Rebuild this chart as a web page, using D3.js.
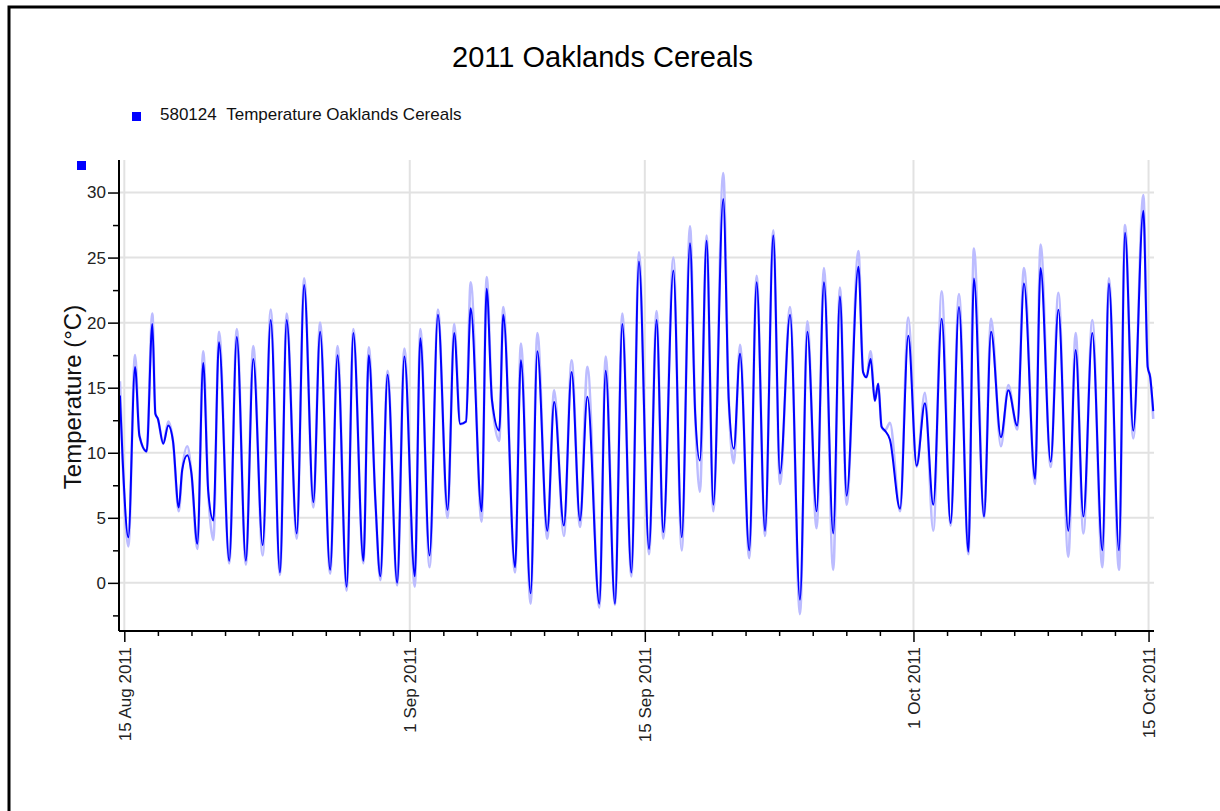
<!DOCTYPE html>
<html>
<head>
<meta charset="utf-8">
<script src="https://cdn.jsdelivr.net/npm/d3@7"></script>
<style>
  html, body { margin: 0; padding: 0; background: #fff; }
  svg { display: block; }
  text { font-family: "Liberation Sans", Arial, sans-serif; }
</style>
</head>
<body>
<svg id="chart" width="1220" height="811"></svg>
<script>
// ---- data (day offsets from 15 Aug 2011 00:00) ----
const chartTitle = "2011 Oaklands Cereals";
const seriesName = "580124\u00a0\u00a0Temperature Oaklands Cereals";
const yAxisTitle = "Temperature (°C)";

const dayOffsets = [
  -0.26, -0.1, 0.24, 0.64, 0.9, 1.33, 1.67, 1.85, 2.0, 2.32,
  2.62, 2.9, 3.24, 3.45, 3.75, 4.0, 4.35, 4.7, 5.0, 5.3,
  5.64, 6.25, 6.7, 7.24, 7.68, 8.24, 8.72, 9.27, 9.67, 10.27,
  10.71, 11.26, 11.66, 12.26, 12.70, 13.24, 13.64, 14.24, 14.56, 14.95,
  15.25, 15.68, 16.25, 16.68, 17.3, 17.63, 18.18, 18.68, 19.25, 19.65,
  20.0, 20.35, 20.63, 21.28, 21.58, 21.9, 22.33, 22.57, 23.27, 23.62,
  24.2, 24.6, 25.19, 25.6, 26.18, 26.64, 27.14, 27.58, 28.29, 28.67,
  29.22, 29.66, 30.2, 30.65, 31.25, 31.7, 32.1, 32.7, 33.2, 33.69,
  34.0, 34.28, 34.68, 35.08, 35.67, 36.0, 36.3, 36.67, 37.22, 37.66,
  38.16, 38.65, 39.05, 39.65, 40.24, 40.68, 41.23, 41.67, 42.22, 42.62,
  43.02, 43.72, 44.0, 44.2, 44.45, 44.7, 44.9, 45.1, 45.3, 45.6,
  46.2, 46.69, 47.19, 47.68, 48.18, 48.68, 49.21, 49.71, 50.27, 50.6,
  51.2, 51.62, 52.21, 52.65, 53.18, 53.58, 54.24, 54.57, 55.17, 55.63,
  56.22, 56.66, 57.12, 57.65, 58.25, 58.64, 59.24, 59.6, 60.09, 60.69,
  60.95, 61.1, 61.28
];

const temperature = [
  14.4, 9.5, 3.5, 16.6, 11.3, 10.1, 19.9, 13.0, 12.6, 10.7,
  12.1, 10.9, 5.8, 8.7, 9.8, 8.4, 3.0, 16.9, 7.0, 4.8,
  18.5, 1.7, 18.9, 1.7, 17.2, 2.9, 20.2, 0.8, 20.2, 3.8,
  22.9, 6.2, 19.3, 1.0, 17.5, -0.3, 19.2, 1.7, 17.5, 6.4,
  0.5, 16.0, 0.0, 17.4, 0.5, 18.8, 2.1, 20.6, 5.6, 19.2,
  12.2, 12.4, 21.1, 5.5, 22.6, 14.0, 11.7, 20.6, 1.2, 17.1,
  -0.8, 17.8, 4.0, 13.9, 4.4, 16.2, 4.8, 14.3, -1.6, 16.3,
  -1.6, 19.9, 0.8, 24.7, 2.6, 20.2, 3.9, 24.0, 3.5, 26.1,
  13.0, 9.4, 26.3, 6.0, 29.5, 14.0, 10.3, 17.6, 2.5, 23.1,
  4.0, 26.7, 8.4, 20.6, -1.3, 19.3, 5.5, 23.1, 3.8, 22.0,
  6.7, 24.3, 16.2, 15.8, 17.2, 14.0, 15.3, 12.0, 11.7, 11.0,
  5.7, 19.0, 9.0, 13.8, 6.0, 20.3, 4.6, 21.2, 2.4, 23.4,
  5.1, 19.3, 11.2, 14.8, 12.1, 23.0, 8.0, 24.2, 9.3, 21.0,
  4.0, 17.9, 5.1, 19.2, 2.5, 23.0, 2.5, 26.9, 11.7, 28.6,
  16.6, 15.8, 13.2
];

// light-blue envelope (hourly extremes)
const temperatureEnvelope = [
  15.5, 9.5, 2.8, 17.5, 11.3, 10.1, 20.7, 13.0, 12.6, 10.7,
  12.4, 10.9, 5.5, 8.7, 10.5, 8.4, 2.6, 17.8, 7.0, 3.3,
  19.3, 1.5, 19.5, 1.4, 18.2, 2.1, 21.0, 0.6, 20.7, 3.4,
  23.4, 5.8, 20.0, 0.7, 18.2, -0.6, 19.5, 1.5, 18.1, 6.4,
  0.2, 16.3, -0.2, 18.0, -0.3, 19.5, 1.2, 21.0, 5.0, 19.9,
  12.2, 12.4, 23.1, 4.7, 23.5, 14.0, 10.9, 21.2, 0.8, 18.4,
  -1.6, 19.2, 3.4, 14.8, 3.6, 17.1, 4.3, 16.6, -1.9, 17.4,
  -1.7, 20.7, 0.5, 25.4, 2.2, 20.9, 3.4, 25.0, 2.5, 27.4,
  13.0, 7.0, 26.7, 5.5, 31.5, 14.0, 9.2, 18.3, 1.9, 23.6,
  3.6, 27.1, 7.6, 21.2, -2.4, 20.1, 4.2, 24.2, 1.0, 22.7,
  6.0, 25.5, 16.2, 15.8, 17.8, 14.0, 15.3, 12.0, 11.7, 12.3,
  5.5, 20.4, 8.9, 14.6, 4.0, 22.4, 4.4, 22.2, 2.2, 25.7,
  5.0, 20.3, 10.5, 15.2, 11.8, 24.2, 7.6, 26.0, 8.9, 22.3,
  2.0, 19.2, 3.8, 20.2, 1.2, 23.4, 1.0, 27.5, 11.1, 29.8,
  16.6, 15.8, 12.6
];

const majorTickDates = ["2011-08-15", "2011-09-01", "2011-09-15", "2011-10-01", "2011-10-15"];
const majorTickLabels = ["15 Aug 2011", "1 Sep 2011", "15 Sep 2011", "1 Oct 2011", "15 Oct 2011"];
const yMajorTicks = [0, 5, 10, 15, 20, 25, 30];
const yMinorTicks = [-2.5, 2.5, 7.5, 12.5, 17.5, 22.5, 27.5];

// ---- layout ----
const svg = d3.select("#chart");
const plot = { left: 119, right: 1154, top: 160, bottom: 631 };
const DAY = 864e5;
const base = Date.UTC(2011, 7, 15);
const toDate = d => new Date(base + d * DAY);

const x = d3.scaleUtc()
  .domain([toDate(-0.316), toDate(61.325)])
  .range([plot.left, plot.right]);
const y = d3.scaleLinear()
  .domain([-3.7, 32.5])
  .range([plot.bottom, plot.top]);

// frame
svg.append("rect").attr("x", 9).attr("y", 7).attr("width", 1300).attr("height", 900)
  .attr("fill", "none").attr("stroke", "#000").attr("stroke-width", 3);

// title
svg.append("text").attr("x", 602.5).attr("y", 66.5).attr("text-anchor", "middle")
  .style("font-size", "29px").attr("fill", "#000").text(chartTitle);

// legend
svg.append("rect").attr("x", 132).attr("y", 112).attr("width", 9).attr("height", 9).attr("fill", "#0000ff");
svg.append("text").attr("x", 160).attr("y", 119.5).style("font-size", "17px")
  .attr("fill", "#111").text(seriesName);
svg.append("rect").attr("x", 77).attr("y", 161).attr("width", 9).attr("height", 9).attr("fill", "#0000ff");

// gridlines
const majorDates = majorTickDates.map(s => new Date(s + "T00:00:00Z"));
svg.append("g").selectAll("line").data(yMajorTicks).join("line")
  .attr("x1", plot.left).attr("x2", plot.right)
  .attr("y1", d => y(d)).attr("y2", d => y(d))
  .attr("stroke", "#e2e2e2").attr("stroke-width", 2);
svg.append("g").selectAll("line").data(majorDates).join("line")
  .attr("x1", d => x(d)).attr("x2", d => x(d))
  .attr("y1", plot.top).attr("y2", plot.bottom)
  .attr("stroke", "#e2e2e2").attr("stroke-width", 2);

// series
const pts = dayOffsets.map((d, i) => ({ t: toDate(d), v: temperature[i], e: temperatureEnvelope[i] }));
svg.append("clipPath").attr("id", "clip").append("rect")
  .attr("x", plot.left + 1).attr("y", plot.top).attr("width", plot.right - plot.left).attr("height", plot.bottom - plot.top);

const envLine = d3.line().x(d => x(d.t)).y(d => y(d.e)).curve(d3.curveMonotoneX);
const line = d3.line().x(d => x(d.t)).y(d => y(d.v)).curve(d3.curveMonotoneX);

const g = svg.append("g").attr("clip-path", "url(#clip)");
g.append("path").datum(pts).attr("d", envLine)
  .attr("fill", "none").attr("stroke", "#bcbcff").attr("stroke-width", 2.6);
g.append("path").datum(pts).attr("d", line)
  .attr("fill", "none").attr("stroke", "#0000ff").attr("stroke-width", 2);

// y axis
const yAxisG = svg.append("g").attr("transform", `translate(${plot.left},0)`);
yAxisG.call(d3.axisLeft(y).tickValues(yMajorTicks).tickSize(11).tickSizeOuter(0).tickFormat(d3.format("d")));
yAxisG.select(".domain").attr("stroke", "#000").attr("stroke-width", 2)
  .attr("d", `M0,${plot.top}V${plot.bottom}`);
yAxisG.selectAll(".tick line").attr("stroke", "#000").attr("stroke-width", 1.5);
yAxisG.selectAll(".tick text").attr("x", -13).style("font-size", "17px")
  .style("font-family", "'Liberation Sans', Arial, sans-serif").attr("fill", "#222");
const yMinorG = svg.append("g").attr("transform", `translate(${plot.left},0)`);
yMinorG.call(d3.axisLeft(y).tickValues(yMinorTicks).tickSize(6).tickFormat(""));
yMinorG.select(".domain").remove();
yMinorG.selectAll(".tick line").attr("stroke", "#000").attr("stroke-width", 1.5);

// x axis
const xAxisG = svg.append("g").attr("transform", `translate(0,${plot.bottom})`);
xAxisG.call(d3.axisBottom(x).tickValues(majorDates).tickSize(11).tickSizeOuter(0)
  .tickFormat((d, i) => majorTickLabels[i]));
xAxisG.select(".domain").attr("stroke", "#000").attr("stroke-width", 2)
  .attr("d", `M${plot.left},0H${plot.right}`);
xAxisG.selectAll(".tick line").attr("stroke", "#000").attr("stroke-width", 1.5);
xAxisG.selectAll(".tick text")
  .attr("transform", "rotate(-90)")
  .attr("x", -16).attr("y", 0).attr("dy", "0.36em")
  .style("text-anchor", "end").style("font-size", "17px")
  .style("font-family", "'Liberation Sans', Arial, sans-serif").attr("fill", "#222");

const majorSet = new Set(majorDates.map(d => +d));
const minorDates = d3.utcDay.every(2).range(toDate(0), toDate(61.2)).filter(d => !majorSet.has(+d));
const xMinorG = svg.append("g").attr("transform", `translate(0,${plot.bottom})`);
xMinorG.call(d3.axisBottom(x).tickValues(minorDates).tickSize(5).tickFormat(""));
xMinorG.select(".domain").remove();
xMinorG.selectAll(".tick line").attr("stroke", "#000").attr("stroke-width", 1.5);

// y axis title
svg.append("text")
  .attr("transform", `translate(81,397) rotate(-90)`)
  .attr("text-anchor", "middle")
  .style("font-size", "24px").attr("fill", "#111")
  .text(yAxisTitle);
</script>
</body>
</html>
